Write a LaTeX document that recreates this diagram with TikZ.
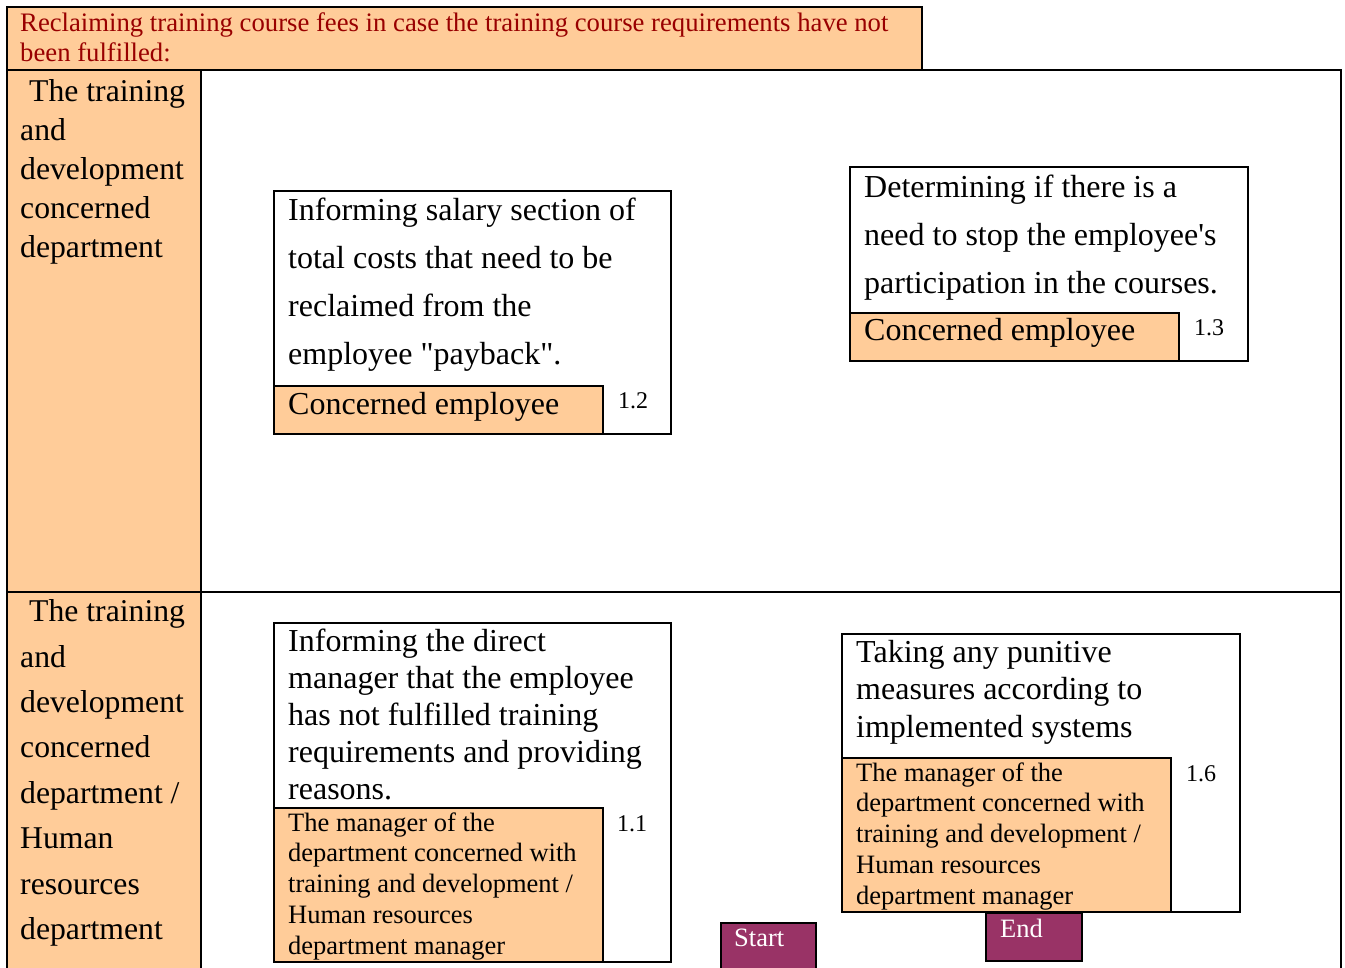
\documentclass[tikz,border=0pt]{standalone}
\usepackage{fontspec}
\setmainfont{Liberation Serif}[Ligatures=TeXOff]
\definecolor{peach}{RGB}{255,204,153}
\definecolor{titlered}{RGB}{153,0,0}
\definecolor{plum}{RGB}{153,51,102}
\newcommand{\sq}{\symbol{39}}
\newcommand{\dq}{\symbol{34}}
\begin{document}
\begin{tikzpicture}[x=1pt,y=-1pt,
  cell/.style={draw=black, line width=1.6pt, rectangle, inner sep=0pt, anchor=north west},
  orange/.style={cell, fill=peach},
  term/.style={cell, fill=plum},
  txt/.style 2 args={anchor=north west, inner sep=0pt, align=left, font=\fontsize{#1}{#2}\selectfont},
  one/.style={anchor=base west, inner sep=0pt, font=\fontsize{32}{37}\selectfont},
  num/.style={anchor=base, inner sep=0pt, font=\fontsize{24}{28}\selectfont},
  termtxt/.style={anchor=base west, inner sep=0pt, text=white, font=\fontsize{26.5}{30}\selectfont}]
\useasboundingbox (0,0) rectangle (1345,968);
\clip (0,0) rectangle (1345,968);
% title
\node[orange, minimum width=915pt, minimum height=63pt] (title) at (6,6) {};
\node[txt={26.7}{30}, text=titlered] (titletxt) at (20,10.5) {\strut Reclaiming training course fees in case the training course requirements have not\\been fulfilled:};
% lanes
\node[orange, minimum width=194pt, minimum height=522pt] (lane1lab) at (6,69) {};
\node[cell, minimum width=1140pt, minimum height=522pt] (lane1) at (200,69) {};
\node[orange, minimum width=194pt, minimum height=400pt] (lane2lab) at (6,591) {};
\node[cell, minimum width=1140pt, minimum height=400pt] (lane2) at (200,591) {};
\node[txt={31.7}{39}] (lane1txt) at (20,73.7) {\strut\hspace*{9pt}The training\\and\\development\\concerned\\department};
\node[txt={31.7}{45.4}] (lane2txt) at (20,589.7) {\strut\hspace*{9pt}The training\\and\\development\\concerned\\department /\\Human\\resources\\department};
% box 1.2
\node[cell, minimum width=397pt, minimum height=243pt] (b12) at (273,190) {};
\node[orange, minimum width=329pt, minimum height=48pt] (b12o) at (273,385) {};
\node[txt={32}{48}] (b12t) at (288,186.4) {\strut Informing salary section of\\total costs that need to be\\reclaimed from the\\employee \dq payback\dq.};
\node[one] (b12r) at (288,414) {Concerned employee};
\node[num] (b12n) at (633,409) {1.2};
% box 1.3
\node[cell, minimum width=398pt, minimum height=194pt] (b13) at (849,166) {};
\node[orange, minimum width=329pt, minimum height=48pt] (b13o) at (849,312) {};
\node[txt={32}{48}] (b13t) at (864,163.4) {\strut Determining if there is a\\need to stop the employee\sq s\\participation in the courses.};
\node[one] (b13r) at (864,341) {Concerned employee};
\node[num] (b13n) at (1209,336) {1.3};
% box 1.1
\node[cell, minimum width=397pt, minimum height=339pt] (b11) at (273,622) {};
\node[orange, minimum width=329pt, minimum height=154pt] (b11o) at (273,807) {};
\node[txt={32}{37}] (b11t) at (288,625.1) {\strut Informing the direct\\manager that the employee\\has not fulfilled training\\requirements and providing\\reasons.};
\node[txt={26.5}{30.8}] (b11r) at (288,809.4) {\strut The manager of the\\department concerned with\\training and development /\\Human resources\\department manager};
\node[num] (b11n) at (632,831) {1.1};
% box 1.6
\node[cell, minimum width=398pt, minimum height=278pt] (b16) at (841,633) {};
\node[orange, minimum width=329pt, minimum height=154pt] (b16o) at (841,757) {};
\node[txt={32}{37.5}] (b16t) at (856,635.75) {\strut Taking any punitive\\measures according to\\implemented systems};
\node[txt={26.5}{30.8}] (b16r) at (856,759.4) {\strut The manager of the\\department concerned with\\training and development /\\Human resources\\department manager};
\node[num] (b16n) at (1201,781) {1.6};
% start / end
\node[term, minimum width=95pt, minimum height=60pt] (start) at (720,922) {};
\node[termtxt] (starttxt) at (734,946) {Start};
\node[term, minimum width=96pt, minimum height=48pt] (end) at (985,912) {};
\node[termtxt] (endtxt) at (1000,937) {End};
\end{tikzpicture}
\end{document}
